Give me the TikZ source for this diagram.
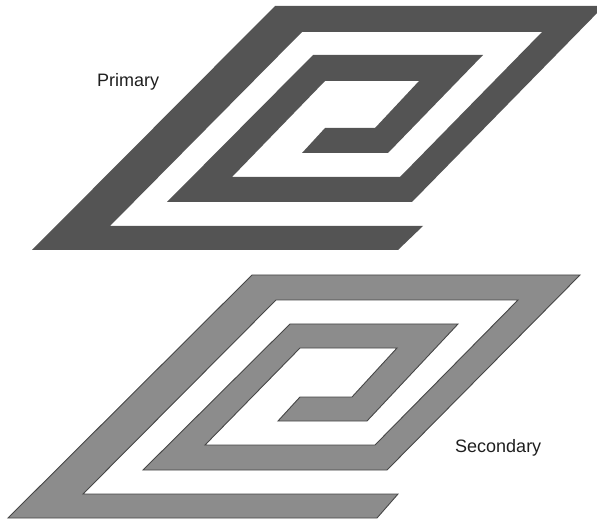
\documentclass[tikz,border=0pt]{standalone}
\usepackage{fontspec}
\setmainfont{Liberation Sans}
\usepackage{xcolor}
\usepackage{tikz}

\begin{document}
\begin{tikzpicture}[x=1pt, y=-1pt,
        primary_coil/.style={fill=black!67, draw=none},
        secondary_coil/.style={fill=black!45, draw=black!72, line width=0.9pt, line join=miter},
        coil_label/.style={anchor=base west, inner sep=0pt, text=black!88,
        font=\fontsize{18}{20}\selectfont}
    ]

    \useasboundingbox (0,0) rectangle (597,521);

    % Primary winding
    \fill[primary_coil] (398,250) -- (32,250) -- (275,6) -- (604,6) -- (412,202)
        -- (167,202) -- (313,55) -- (483,55) -- (388,153) -- (302,153)
        -- (325,128) -- (375,128) -- (419,81) -- (325,81) -- (232,177)
        -- (400,177) -- (542,32) -- (302,32) -- (110,226) -- (423,226) -- cycle;

    % Secondary winding
    \filldraw[secondary_coil] (377,518) -- (8,518) -- (252,275) -- (580,275) -- (387,470)
        -- (143,470) -- (290,324) -- (458,324) -- (367,421) -- (278,421)
        -- (300,397) -- (352,397) -- (397,348) -- (300,348) -- (205,445)
        -- (375,445) -- (518,300) -- (276,300) -- (83,494) -- (398,494) -- cycle;

    % Labels
    \node[coil_label] (primary) at (97,87) {Primary};
    \node[coil_label] (secondary) at (455,452) {Secondary};

\end{tikzpicture}
\end{document}
